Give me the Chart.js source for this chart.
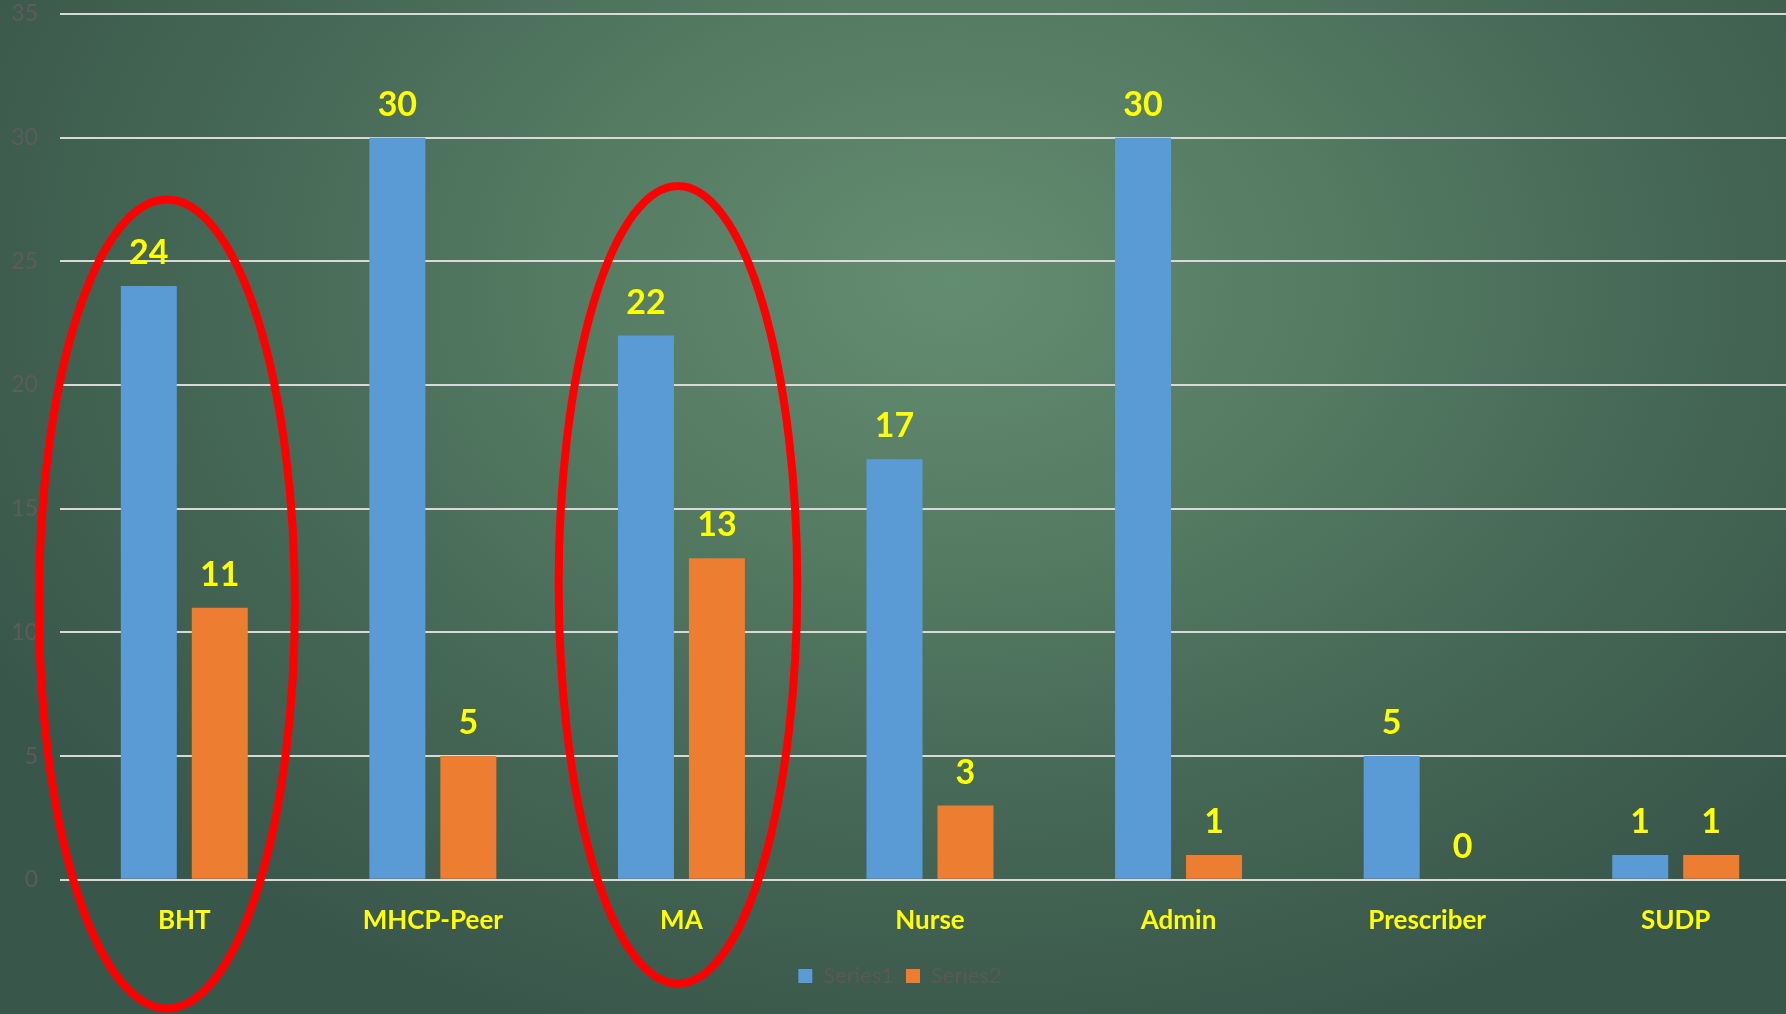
<!DOCTYPE html>
<html>
<head>
<meta charset="utf-8">
<script src="https://cdn.jsdelivr.net/npm/chart.js@4"></script>
<style>
  html, body { margin: 0; padding: 0; overflow: hidden; }
  body {
    width: 1786px; height: 1014px;
    background: radial-gradient(ellipse 1100px 800px at 950px 280px, #638d71 0%, #557b62 35%, #466856 65%, #39564a 100%);
  }
  #wrap { position: absolute; left: 0; top: 0; width: 1800px; height: 1014px; }
</style>
</head>
<body>
<div id="wrap"><canvas id="BarChart"></canvas></div>
<script>
const categories = ["BHT", "MHCP-Peer", "MA", "Nurse", "Admin", "Prescriber", "SUDP"];
const series1 = [24, 30, 22, 17, 30, 5, 1];
const series2 = [11, 5, 13, 3, 1, 0, 1];
const yTicks = [0, 5, 10, 15, 20, 25, 30, 35];

// red ellipses around two of the groups (in category / value units)
const highlights = [
  { index: 0, shift: -0.07, halfWidth: 0.515, top: 27.5, bottom: -5.2 },
  { index: 2, shift: -0.014, halfWidth: 0.48, top: 28.05, bottom: -4.2 }
];

const valueLabels = {
  id: 'valueLabels',
  afterDatasetsDraw(chart) {
    const ctx = chart.ctx;
    ctx.save();
    ctx.fillStyle = '#ffff00';
    ctx.font = 'bold 34px Lato';
    ctx.textAlign = 'center';
    ctx.textBaseline = 'middle';
    chart.data.datasets.forEach((ds, i) => {
      chart.getDatasetMeta(i).data.forEach((bar, j) => {
        ctx.fillText(ds.data[j], bar.x, bar.y - 33);
      });
    });
    ctx.restore();
  }
};

const ellipses = {
  id: 'ellipses',
  afterDraw(chart) {
    const ctx = chart.ctx;
    const x = chart.scales.x, y = chart.scales.y;
    const catW = x.getPixelForValue(1) - x.getPixelForValue(0);
    ctx.save();
    ctx.strokeStyle = '#ff0000';
    ctx.lineWidth = 8;
    highlights.forEach(h => {
      const cx = x.getPixelForValue(h.index) + h.shift * catW;
      const top = y.getPixelForValue(h.top), bottom = y.getPixelForValue(h.bottom);
      ctx.beginPath();
      ctx.ellipse(cx, (top + bottom) / 2, h.halfWidth * catW, (bottom - top) / 2, 0, 0, Math.PI * 2);
      ctx.stroke();
    });
    ctx.restore();
  }
};

const ctx = document.getElementById('BarChart').getContext('2d');
let chart = new Chart(ctx, {
  type: 'bar',
  data: {
    labels: categories,
    datasets: [
      { label: 'Series1', data: series1, backgroundColor: '#5b9bd5' },
      { label: 'Series2', data: series2, backgroundColor: '#ed7d31' }
    ]
  },
  options: {
    responsive: true,
    maintainAspectRatio: false,
    animation: false,
    categoryPercentage: 0.571,
    barPercentage: 0.789,
    layout: { padding: { top: 14, right: 0, bottom: 17, left: 0 } },
    plugins: {
      tooltip: { enabled: false },
      legend: {
        position: 'bottom',
        labels: {
          color: '#595959',
          font: { family: 'Lato', size: 22 },
          boxWidth: 14,
          boxHeight: 14,
          padding: 12
        }
      }
    },
    scales: {
      x: {
        grid: { display: false },
        border: { display: false },
        ticks: {
          color: '#ffff00',
          font: { family: 'Lato', size: 26, weight: 'bold' },
          padding: 17
        }
      },
      y: {
        min: 0,
        max: 35,
        afterBuildTicks(axis) { axis.ticks = yTicks.map(v => ({ value: v })); },
        afterFit(axis) { axis.width = 60; axis.paddingTop = 0; axis.paddingBottom = 0; },
        grid: { color: '#d9d9d9', lineWidth: 2, drawTicks: false },
        border: { display: false },
        ticks: {
          color: '#5c5c5c',
          font: { family: 'Lato', size: 23 },
          padding: 22
        }
      }
    }
  },
  plugins: [valueLabels, ellipses]
});
</script>
</body>
</html>
